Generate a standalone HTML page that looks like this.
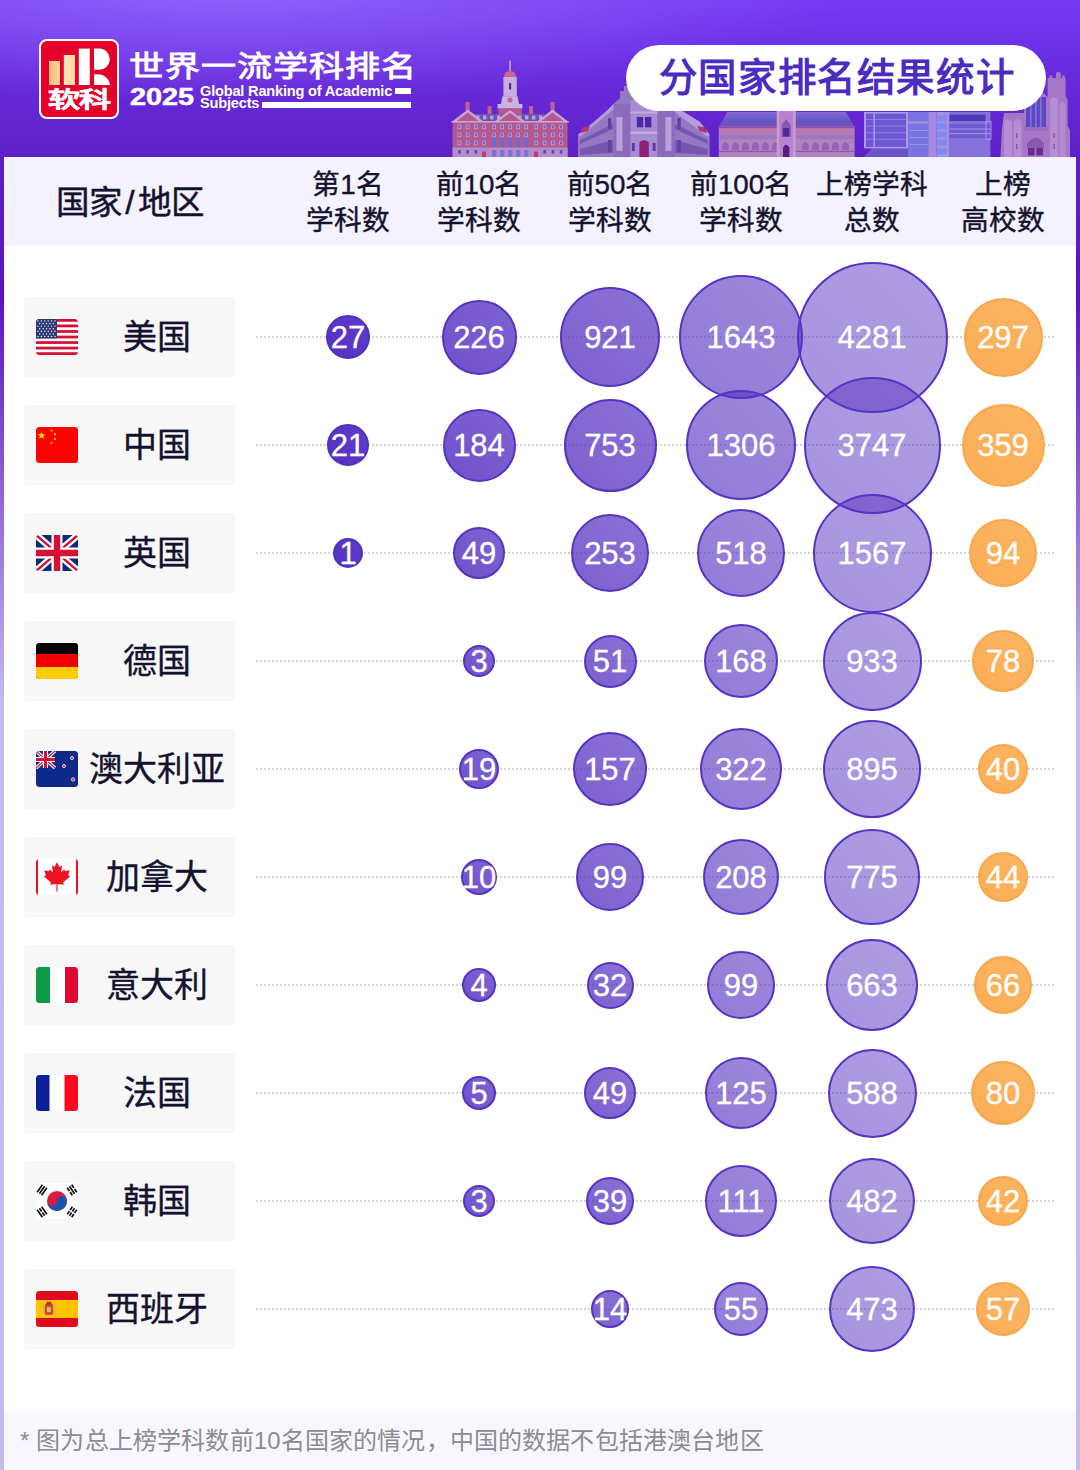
<!DOCTYPE html>
<html lang="zh-CN">
<head>
<meta charset="utf-8">
<title>分国家排名结果统计</title>
<style>
*{box-sizing:border-box;margin:0;padding:0}
html,body{width:1080px;height:1470px;overflow:hidden}
body{font-family:"Liberation Sans",sans-serif;position:relative;
 background:linear-gradient(180deg,#763af3 0px,#6d31e8 40px,#6629d8 90px,#5d20c6 157px,#5c14c0 300px,#c4b8ec 700px,#c5b9ed 1470px);}
.glow{position:absolute;left:0;top:0;width:1080px;height:157px;background:radial-gradient(ellipse 620px 110px at 230px -8px,rgba(158,120,255,.62),rgba(158,120,255,0) 100%)}
.panel{position:absolute;left:4px;top:157px;width:1072px;height:1313px;background:#fff}
.thead{position:absolute;left:4px;top:157px;width:1072px;height:89px;background:#f3f2fd}
.foot{position:absolute;left:4px;top:1406px;width:1072px;height:64px;background:linear-gradient(180deg,#fff 0,#f8f7fe 10px,#f8f7fe 100%)}
.foot p{position:absolute;left:16px;top:20px;font-size:24px;line-height:30px;color:#8b8b93;white-space:nowrap;letter-spacing:.15px}
.th0{position:absolute;left:30px;top:180px;width:200px;text-align:center;font-size:33.5px;line-height:46px;color:#14122e;white-space:nowrap;-webkit-text-stroke:.45px #14122e}
.th0 i{font-style:normal;margin:0 3px}
.th{position:absolute;top:167px;width:140px;text-align:center;font-size:27.7px;line-height:36px;color:#14122e;white-space:nowrap;-webkit-text-stroke:.4px #14122e}
.row{position:absolute;left:0;width:1080px;height:0}
.cbox{position:absolute;left:24px;top:-40px;width:211px;height:80px;border-radius:4px;background:#f7f7f8}
.flag{position:absolute;left:12px;top:22px}
.cname{position:absolute;left:54px;top:0;width:158px;height:80px;line-height:81px;text-align:center;font-size:34px;color:#14122e;white-space:nowrap;-webkit-text-stroke:.35px #14122e}
.dots{position:absolute;left:256px;top:-1px;width:800px;height:2px;background-image:radial-gradient(circle at 1px 1px,#d2d2d7 0.85px,rgba(210,210,215,0) 1.15px);background-size:4px 2px}
.b{position:absolute;border-radius:50%;border:2px solid #5733c2;display:flex;align-items:center;justify-content:center}
.b span{color:#fff;font-size:31px;line-height:31px;white-space:nowrap;-webkit-text-stroke:.3px #fff;position:relative;top:.5px}
.c1{background:linear-gradient(45deg,#5531c2,#5e3bca);border-color:#5130c0}
.c2{background:linear-gradient(45deg,#6f50cb,#7f64d2)}
.c3{background:linear-gradient(45deg,rgba(87,51,194,.78),rgba(87,51,194,.69))}
.c4{background:linear-gradient(45deg,rgba(87,51,194,.65),rgba(87,51,194,.58))}
.c5{background:linear-gradient(45deg,rgba(87,51,194,.53),rgba(87,51,194,.48))}
.c6{background:linear-gradient(45deg,#fbad55,#fcb562);border-color:#f8a74c}
/* header */
.logo{position:absolute;left:39px;top:39px;width:80px;height:80px;border-radius:8px;background:#e4002b;border:2px solid #fff}
.logo svg{position:absolute;left:-2px;top:-2px}
.logo b{position:absolute;left:4px;top:40.6px;width:68px;text-align:center;font-size:32px;line-height:36px;font-weight:900;color:#fff;transform:scaleY(.68);transform-origin:50% 50%;letter-spacing:-0.6px;white-space:nowrap;-webkit-text-stroke:.7px #fff}
.t1{position:absolute;left:128.5px;top:42.2px;font-size:35px;line-height:50px;font-weight:700;color:#fff;letter-spacing:1px;white-space:nowrap;transform:scaleY(.83);transform-origin:0 50%}
.t2{position:absolute;left:129.5px;top:83px;font-size:24px;line-height:28px;font-weight:700;color:#fff;transform:scaleX(1.2);transform-origin:0 50%;white-space:nowrap;-webkit-text-stroke:.5px #fff}
.t3{position:absolute;left:200px;top:84.8px;font-size:14.6px;line-height:12px;font-weight:700;color:#fff;white-space:nowrap;letter-spacing:-.2px}
.bar1{position:absolute;left:395px;top:88px;width:16px;height:6px;background:#fff}
.bar2{position:absolute;left:262px;top:102px;width:149px;height:6px;background:#fff}
.pill{position:absolute;left:626px;top:45px;width:420px;height:66px;border-radius:33px;background:#fff;text-align:center;font-size:38.4px;line-height:65px;font-weight:700;color:#4b2cc0;white-space:nowrap;letter-spacing:1.6px;padding-left:2px}
.bld{position:absolute;left:0;top:0}
</style>
</head>
<body>
<div class="glow"></div>
<svg class="bld" width="1080" height="157" viewBox="0 0 1080 157"><g>
<rect x="465.6" y="102" width="4" height="10" fill="#c2608e"/>
<rect x="487.6" y="106" width="4" height="10" fill="#c2608e"/>
<rect x="529" y="106" width="4" height="10" fill="#c2608e"/>
<rect x="550.6" y="102" width="4" height="10" fill="#c2608e"/>
<rect x="470" y="114" width="80" height="8" fill="#6a55a8"/>
<rect x="476" y="115.5" width="3.4" height="4" fill="#b9a2dc"/>
<rect x="483" y="115.5" width="3.4" height="4" fill="#b9a2dc"/>
<rect x="490" y="115.5" width="3.4" height="4" fill="#b9a2dc"/>
<rect x="497" y="115.5" width="3.4" height="4" fill="#b9a2dc"/>
<rect x="504" y="115.5" width="3.4" height="4" fill="#b9a2dc"/>
<rect x="511" y="115.5" width="3.4" height="4" fill="#b9a2dc"/>
<rect x="518" y="115.5" width="3.4" height="4" fill="#b9a2dc"/>
<rect x="525" y="115.5" width="3.4" height="4" fill="#b9a2dc"/>
<rect x="532" y="115.5" width="3.4" height="4" fill="#b9a2dc"/>
<rect x="539" y="115.5" width="3.4" height="4" fill="#b9a2dc"/>
<rect x="509.2" y="60.5" width="1.8" height="11" fill="#c890c8"/>
<path d="M504,77 Q504,71 510,71 Q516,71 516,77 Z" fill="#c8668e"/>
<rect x="503.4" y="77" width="13.4" height="19.5" fill="#c6aee2"/>
<rect x="509" y="83" width="2.2" height="6.5" fill="#5a2a90"/>
<path d="M501,104 L502.5,96.3 H517.5 L519,104 Z" fill="#cbb4e6"/>
<circle cx="510" cy="100" r="2.5" fill="#cc5e92"/>
<rect x="497.6" y="104" width="24.8" height="4.6" fill="#c9b2e4"/>
<rect x="498.4" y="108.4" width="23.4" height="6.4" fill="#b6588e"/>
<rect x="452.6" y="121.5" width="115" height="35.5" fill="#b4588f"/>
<rect x="452.6" y="147.5" width="115" height="9.5" fill="#b48cce"/>
<path d="M451.6,122 L467.8,109.5 L484,122 Z" fill="#c9a6da"/><path d="M456,121.5 L467.8,112.4 L479.6,121.5 Z" fill="#b65a8e"/>
<path d="M536.4,122 L552.6,109.5 L568.8,122 Z" fill="#c9a6da"/><path d="M540.8,121.5 L552.6,112.4 L564.4,121.5 Z" fill="#b65a8e"/>
<path d="M494,122 L510,110 L526,122 Z" fill="#c9a6da"/><path d="M498.4,121.5 L510,112.8 L521.6,121.5 Z" fill="#b65a8e"/>
<rect x="451.6" y="121" width="117.2" height="1.6" fill="#c9a6da"/>
<rect x="457.6" y="124.6" width="3.6" height="4.6" fill="#c9a0cf"/><rect x="458.40000000000003" y="125.39999999999999" width="2" height="3" fill="#5a66d2"/>
<rect x="465.8" y="124.6" width="3.6" height="4.6" fill="#c9a0cf"/><rect x="466.6" y="125.39999999999999" width="2" height="3" fill="#5a66d2"/>
<rect x="474" y="124.6" width="3.6" height="4.6" fill="#c9a0cf"/><rect x="474.8" y="125.39999999999999" width="2" height="3" fill="#5a66d2"/>
<rect x="482.4" y="124.6" width="3.6" height="4.6" fill="#c9a0cf"/><rect x="483.2" y="125.39999999999999" width="2" height="3" fill="#5a66d2"/>
<rect x="492.4" y="124.6" width="3.6" height="4.6" fill="#c9a0cf"/><rect x="493.2" y="125.39999999999999" width="2" height="3" fill="#5a66d2"/>
<rect x="500.4" y="124.6" width="3.6" height="4.6" fill="#c9a0cf"/><rect x="501.2" y="125.39999999999999" width="2" height="3" fill="#5a66d2"/>
<rect x="508.4" y="124.6" width="3.6" height="4.6" fill="#c9a0cf"/><rect x="509.2" y="125.39999999999999" width="2" height="3" fill="#5a66d2"/>
<rect x="516.4" y="124.6" width="3.6" height="4.6" fill="#c9a0cf"/><rect x="517.1999999999999" y="125.39999999999999" width="2" height="3" fill="#5a66d2"/>
<rect x="524.4" y="124.6" width="3.6" height="4.6" fill="#c9a0cf"/><rect x="525.1999999999999" y="125.39999999999999" width="2" height="3" fill="#5a66d2"/>
<rect x="534.4" y="124.6" width="3.6" height="4.6" fill="#c9a0cf"/><rect x="535.1999999999999" y="125.39999999999999" width="2" height="3" fill="#5a66d2"/>
<rect x="542.8" y="124.6" width="3.6" height="4.6" fill="#c9a0cf"/><rect x="543.5999999999999" y="125.39999999999999" width="2" height="3" fill="#5a66d2"/>
<rect x="551" y="124.6" width="3.6" height="4.6" fill="#c9a0cf"/><rect x="551.8" y="125.39999999999999" width="2" height="3" fill="#5a66d2"/>
<rect x="559.2" y="124.6" width="3.6" height="4.6" fill="#c9a0cf"/><rect x="560.0" y="125.39999999999999" width="2" height="3" fill="#5a66d2"/>
<rect x="457.6" y="132.6" width="3.6" height="4.6" fill="#c9a0cf"/><rect x="458.40000000000003" y="133.4" width="2" height="3" fill="#5a66d2"/>
<rect x="465.8" y="132.6" width="3.6" height="4.6" fill="#c9a0cf"/><rect x="466.6" y="133.4" width="2" height="3" fill="#5a66d2"/>
<rect x="474" y="132.6" width="3.6" height="4.6" fill="#c9a0cf"/><rect x="474.8" y="133.4" width="2" height="3" fill="#5a66d2"/>
<rect x="482.4" y="132.6" width="3.6" height="4.6" fill="#c9a0cf"/><rect x="483.2" y="133.4" width="2" height="3" fill="#5a66d2"/>
<rect x="492.4" y="132.6" width="3.6" height="4.6" fill="#c9a0cf"/><rect x="493.2" y="133.4" width="2" height="3" fill="#5a66d2"/>
<rect x="500.4" y="132.6" width="3.6" height="4.6" fill="#c9a0cf"/><rect x="501.2" y="133.4" width="2" height="3" fill="#5a66d2"/>
<rect x="508.4" y="132.6" width="3.6" height="4.6" fill="#c9a0cf"/><rect x="509.2" y="133.4" width="2" height="3" fill="#5a66d2"/>
<rect x="516.4" y="132.6" width="3.6" height="4.6" fill="#c9a0cf"/><rect x="517.1999999999999" y="133.4" width="2" height="3" fill="#5a66d2"/>
<rect x="524.4" y="132.6" width="3.6" height="4.6" fill="#c9a0cf"/><rect x="525.1999999999999" y="133.4" width="2" height="3" fill="#5a66d2"/>
<rect x="534.4" y="132.6" width="3.6" height="4.6" fill="#c9a0cf"/><rect x="535.1999999999999" y="133.4" width="2" height="3" fill="#5a66d2"/>
<rect x="542.8" y="132.6" width="3.6" height="4.6" fill="#c9a0cf"/><rect x="543.5999999999999" y="133.4" width="2" height="3" fill="#5a66d2"/>
<rect x="551" y="132.6" width="3.6" height="4.6" fill="#c9a0cf"/><rect x="551.8" y="133.4" width="2" height="3" fill="#5a66d2"/>
<rect x="559.2" y="132.6" width="3.6" height="4.6" fill="#c9a0cf"/><rect x="560.0" y="133.4" width="2" height="3" fill="#5a66d2"/>
<rect x="457.6" y="140.6" width="3.6" height="4.6" fill="#c9a0cf"/><rect x="458.40000000000003" y="141.4" width="2" height="3" fill="#5a66d2"/>
<rect x="465.8" y="140.6" width="3.6" height="4.6" fill="#c9a0cf"/><rect x="466.6" y="141.4" width="2" height="3" fill="#5a66d2"/>
<rect x="474" y="140.6" width="3.6" height="4.6" fill="#c9a0cf"/><rect x="474.8" y="141.4" width="2" height="3" fill="#5a66d2"/>
<rect x="482.4" y="140.6" width="3.6" height="4.6" fill="#c9a0cf"/><rect x="483.2" y="141.4" width="2" height="3" fill="#5a66d2"/>
<rect x="534.4" y="140.6" width="3.6" height="4.6" fill="#c9a0cf"/><rect x="535.1999999999999" y="141.4" width="2" height="3" fill="#5a66d2"/>
<rect x="542.8" y="140.6" width="3.6" height="4.6" fill="#c9a0cf"/><rect x="543.5999999999999" y="141.4" width="2" height="3" fill="#5a66d2"/>
<rect x="551" y="140.6" width="3.6" height="4.6" fill="#c9a0cf"/><rect x="551.8" y="141.4" width="2" height="3" fill="#5a66d2"/>
<rect x="559.2" y="140.6" width="3.6" height="4.6" fill="#c9a0cf"/><rect x="560.0" y="141.4" width="2" height="3" fill="#5a66d2"/>
<path d="M492.4,146.5 V139 Q494.2,136.4 496.0,139 V146.5 Z" fill="#5a6ee0"/>
<path d="M500.4,146.5 V139 Q502.2,136.4 504.0,139 V146.5 Z" fill="#5a6ee0"/>
<path d="M508.4,146.5 V139 Q510.2,136.4 512.0,139 V146.5 Z" fill="#5a6ee0"/>
<path d="M516.4,146.5 V139 Q518.1999999999999,136.4 520.0,139 V146.5 Z" fill="#5a6ee0"/>
<path d="M524.4,146.5 V139 Q526.1999999999999,136.4 528.0,139 V146.5 Z" fill="#5a6ee0"/>
<rect x="458.20000000000005" y="150" width="2.6" height="3.6" fill="#4a50c0"/>
<rect x="466.40000000000003" y="150" width="2.6" height="3.6" fill="#4a50c0"/>
<rect x="474.6" y="150" width="2.6" height="3.6" fill="#4a50c0"/>
<rect x="543.4" y="150" width="2.6" height="3.6" fill="#4a50c0"/>
<rect x="551.6" y="150" width="2.6" height="3.6" fill="#4a50c0"/>
<rect x="559.8000000000001" y="150" width="2.6" height="3.6" fill="#4a50c0"/>
<rect x="492" y="150" width="4.4" height="6.6" fill="#7a70d8"/>
<rect x="500" y="150" width="4.4" height="6.6" fill="#7a70d8"/>
<rect x="508" y="150" width="4.4" height="6.6" fill="#7a70d8"/>
<rect x="516" y="150" width="4.4" height="6.6" fill="#7a70d8"/>
<rect x="524" y="150" width="4.4" height="6.6" fill="#7a70d8"/>
<rect x="482" y="151.5" width="4" height="5.5" fill="#c23a6a"/><rect x="534" y="151.5" width="4" height="5.5" fill="#c23a6a"/>
</g>
<g>
<path d="M578,157 V134.5 L592,123.5 L607,110.5 L613.5,104 L620,98 V91 H624 V86 H640 L700,122 L709.6,134.5 V157 Z" fill="#9478c2"/>
<path d="M578,134.5 L592,123.5 L607,110.5 L613.5,104 L614,109 L580,137 Z" fill="#b39bdc"/>
<path d="M709.6,134.5 L700,122 L676,107 L675,112 L707.6,137 Z" fill="#b39bdc"/>
<path d="M582,127.5 L590,126 L588,131 L580.5,133 Z" fill="#b23274"/><path d="M705.4,127.5 L697.4,126 L699.4,131 L707,133 Z" fill="#b23274"/>
<path d="M580,140 L613,124 V129 L580,144 Z" fill="#7558ae"/><path d="M580,149 L613,140 V153 L580,155 Z" fill="#7558ae"/>
<path d="M707.6,140 L675,124 V129 L707.6,144 Z" fill="#7558ae"/><path d="M707.6,149 L675,140 V153 L707.6,155 Z" fill="#7558ae"/>
<rect x="613.6" y="104" width="17" height="53" fill="#8a6cba"/><rect x="657" y="104" width="18" height="53" fill="#8a6cba"/>
<rect x="616.4" y="117" width="6" height="34" fill="#b7a0dc"/><rect x="665.4" y="117" width="6" height="34" fill="#b7a0dc"/>
<rect x="630.4" y="100" width="26.8" height="57" fill="#a68cd2"/>
<rect x="630.4" y="111.5" width="26.8" height="2" fill="#c2addf"/><rect x="630.4" y="131.5" width="26.8" height="2.4" fill="#c2addf"/>
<rect x="636.8" y="117" width="6.4" height="10.4" fill="#4a2aa2"/><rect x="645" y="117" width="6.4" height="10.4" fill="#4a2aa2"/>
<rect x="631.8" y="143" width="3" height="8" fill="#5b3cb0"/><rect x="652.6" y="143" width="3" height="8" fill="#5b3cb0"/>
<path d="M639.4,157 V142 Q644,138.4 648.8,142 V157 Z" fill="#8c1f72"/>
<rect x="608" y="118" width="3.4" height="11" fill="#5f40a8"/><rect x="608" y="140" width="3.4" height="12" fill="#5f40a8"/><rect x="677.4" y="118" width="3.4" height="11" fill="#5f40a8"/><rect x="677.4" y="140" width="3.4" height="12" fill="#5f40a8"/>
</g>
<g>
<defs><linearGradient id="rf3" x1="0" y1="0" x2="0" y2="1"><stop offset="0" stop-color="#8a68d2"/><stop offset=".6" stop-color="#5e56c6"/><stop offset="1" stop-color="#7a4eb6"/></linearGradient></defs>
<path d="M718.8,127 L727.4,112 H846 L854.6,127 Z" fill="url(#rf3)"/>
<rect x="718.8" y="126.6" width="135.8" height="30.4" fill="#b083c0"/>
<rect x="718.8" y="126.6" width="135.8" height="1.6" fill="#8a50a8"/>
<rect x="720" y="129" width="133.4" height="5" fill="#bb78ac"/>
<rect x="720" y="135" width="133.4" height="4" fill="#9a78c4"/>
<rect x="718.8" y="150.8" width="135.8" height="1" fill="#8a50a8"/>
<path d="M722,150 V145 Q725.4,139.6 728.8,145 V150 Z" fill="#9462b4"/>
<path d="M732,150 V145 Q735.4,139.6 738.8,145 V150 Z" fill="#9462b4"/>
<path d="M742,150 V145 Q745.4,139.6 748.8,145 V150 Z" fill="#9462b4"/>
<path d="M752,150 V145 Q755.4,139.6 758.8,145 V150 Z" fill="#9462b4"/>
<path d="M762,150 V145 Q765.4,139.6 768.8,145 V150 Z" fill="#9462b4"/>
<path d="M772,150 V145 Q775.4,139.6 778.8,145 V150 Z" fill="#9462b4"/>
<path d="M802,150 V145 Q805.4,139.6 808.8,145 V150 Z" fill="#9462b4"/>
<path d="M812,150 V145 Q815.4,139.6 818.8,145 V150 Z" fill="#9462b4"/>
<path d="M822,150 V145 Q825.4,139.6 828.8,145 V150 Z" fill="#9462b4"/>
<path d="M832,150 V145 Q835.4,139.6 838.8,145 V150 Z" fill="#9462b4"/>
<path d="M842,150 V145 Q845.4,139.6 848.8,145 V150 Z" fill="#9462b4"/>
<rect x="776.8" y="106" width="18.8" height="51" fill="#b684cc"/>
<rect x="776.8" y="106" width="2.6" height="51" fill="#c79ad8"/><rect x="793" y="106" width="2.6" height="51" fill="#c79ad8"/>
<path d="M781.6,137 V125 L786.2,119 L790.8,125 V137 Z" fill="#8a56b4"/><rect x="783.2" y="128" width="6" height="8.4" fill="#4a2a9c"/>
<path d="M783,157 V147.4 Q786.2,142 789.4,147.4 V157 Z" fill="#5a1a84"/>
</g>
<g>
<path d="M864,157 L872,148 H930 V157 Z" fill="#6a52c8"/>
<rect x="864" y="112" width="44" height="36.4" fill="#ae98e6"/><rect x="866" y="113.5" width="40" height="33.4" fill="#6b58d2"/>
<rect x="866" y="119" width="40" height="1" fill="#8f7fe0"/>
<rect x="866" y="125.6" width="40" height="1" fill="#8f7fe0"/>
<rect x="866" y="132.2" width="40" height="1" fill="#8f7fe0"/>
<rect x="866" y="138.8" width="40" height="1" fill="#8f7fe0"/>
<rect x="873.4" y="113.5" width="1.6" height="33.4" fill="#a898e8"/>
<rect x="908" y="112" width="21" height="45" fill="#7a74e2"/><rect x="908" y="121.4" width="21" height="2.2" fill="#a58fe2"/>
<rect x="909.4" y="130" width="19" height="1" fill="#9a92ec"/>
<rect x="909.4" y="137" width="19" height="1" fill="#9a92ec"/>
<rect x="909.4" y="144" width="19" height="1" fill="#9a92ec"/>
<rect x="928.6" y="112" width="8" height="45" fill="#a889e2"/>
<rect x="936.6" y="112" width="12.4" height="45" fill="#a58fe4"/>
<rect x="936.6" y="115.4" width="10" height="5.6" fill="#7d8af0"/>
<rect x="936.6" y="123.4" width="10" height="5.6" fill="#7d8af0"/>
<rect x="936.6" y="131.6" width="10" height="5.6" fill="#7d8af0"/>
<rect x="936.6" y="139.8" width="10" height="5.6" fill="#7d8af0"/>
<rect x="936.6" y="148.6" width="10" height="5.6" fill="#7d8af0"/>
<rect x="949" y="112" width="41.4" height="45" fill="#8672da"/>
<rect x="949.6" y="114.6" width="36" height="6.4" fill="#4a3ab6"/>
<rect x="949.6" y="124" width="41" height="14" fill="#6f5cd0"/><rect x="949.6" y="128.4" width="41" height="1.2" fill="#9c8ce6"/><rect x="949.6" y="133" width="41" height="1.2" fill="#9c8ce6"/>
<rect x="986" y="121.4" width="5" height="18" fill="none" stroke="#a792e6" stroke-width="1"/>
</g>
<g>
<path d="M1000.4,157 L1002,128 L1004,113 H1024 V100 L1036,86 L1047.6,97 V78 H1049.6 V75.6 H1052.4 V78 H1056 V73 L1058.4,71.6 L1060.8,73 V78 H1062 V75.6 H1064.8 V78 H1065.6 V96 L1067.6,100 V126 L1070,130 V157 Z" fill="#a677c6"/>
<path d="M1004,157 V122 Q1008,116 1012,122 V157 Z" fill="#b68cd2"/><path d="M1013.6,157 V122 Q1017.6,116 1021.6,122 V157 Z" fill="#b68cd2"/>
<path d="M1050,157 V100 Q1054,94 1058,100 V157 Z" fill="#b68cd2"/><path d="M1059.6,157 V104 Q1062.6,99 1065.6,104 V157 Z" fill="#b28acf"/>
<rect x="1026" y="97" width="20" height="30" fill="#5a48c6"/>
<rect x="1030.4" y="97" width="1" height="30" fill="#a88cd8"/>
<rect x="1035.4" y="97" width="1" height="30" fill="#a88cd8"/>
<rect x="1040.4" y="97" width="1" height="30" fill="#a88cd8"/>
<rect x="1024.4" y="127" width="23" height="4" fill="#9c6cbc"/>
<path d="M1027,148 V144 Q1035.6,131 1044.2,144 V148 Z" fill="#8a58ae"/>
<rect x="1028" y="148" width="6.6" height="7.4" fill="#6a2a92"/><rect x="1036.4" y="148" width="6.6" height="7.4" fill="#6a2a92"/>
<rect x="1016" y="133" width="1.4" height="5" fill="#8450a8"/><rect x="1016" y="144" width="1.4" height="5" fill="#8450a8"/><rect x="1053.4" y="133" width="1.4" height="5" fill="#8450a8"/><rect x="1053.4" y="144" width="1.4" height="5" fill="#8450a8"/>
</g></svg>
<div class="logo"><svg width="80" height="80" viewBox="39 39 80 80">
<defs><linearGradient id="lg1" x1="0" x2="1"><stop offset="0" stop-color="#f3bd76"/><stop offset="1" stop-color="#f9d69c"/></linearGradient>
<linearGradient id="lg2" x1="0" x2="1"><stop offset="0" stop-color="#fde6bc"/><stop offset="1" stop-color="#fbd8a2"/></linearGradient></defs>
<rect x="49" y="61" width="11" height="24" fill="url(#lg1)"/><rect x="63.8" y="55" width="11.2" height="30" fill="url(#lg2)"/><rect x="78.8" y="48.6" width="11" height="36.4" fill="#fff"/>
<path d="M94,48.6 H99.2 A10.6,10.6 0 0 1 99.2,69.8 H94 Z" fill="#fff"/><path d="M94,74.3 H97.5 A12.3,10.7 0 0 1 109.8,85 H94 Z" fill="#fff"/></svg><b>软科</b></div>
<div class="t1">世界一流学科排名</div>
<div class="t2">2025</div>
<div class="t3">Global Ranking of Academic<br>Subjects</div>
<div class="bar1"></div><div class="bar2"></div>
<div class="pill">分国家排名结果统计</div>
<div class="panel"></div>
<div class="thead"></div>
<div class="th0">国家<i>/</i>地区</div>
<div class="th" style="left:278px">第1名<br>学科数</div><div class="th" style="left:409px">前10名<br>学科数</div><div class="th" style="left:540px">前50名<br>学科数</div><div class="th" style="left:671px">前100名<br>学科数</div><div class="th" style="left:802px">上榜学科<br>总数</div><div class="th" style="left:933px">上榜<br>高校数</div>
<div class="row" style="top:337px"><div class="cbox"><svg class="flag" width="42" height="36" viewBox="0 0 42 36"><defs><clipPath id="fc0"><rect width="42" height="36" rx="3.5"/></clipPath></defs><g clip-path="url(#fc0)"><rect width="42" height="36" fill="#fff"/>
<g fill="#d80f34"><rect y="0" width="42" height="2.77"/><rect y="5.54" width="42" height="2.77"/><rect y="11.08" width="42" height="2.77"/><rect y="16.62" width="42" height="2.77"/><rect y="22.15" width="42" height="2.77"/><rect y="27.69" width="42" height="2.77"/><rect y="33.23" width="42" height="2.77"/></g>
<rect width="21" height="19.4" fill="#2a3a78"/>
<g fill="#fff"><circle cx="2.0" cy="1.9" r="0.7"/><circle cx="5.4" cy="1.9" r="0.7"/><circle cx="8.8" cy="1.9" r="0.7"/><circle cx="12.2" cy="1.9" r="0.7"/><circle cx="15.6" cy="1.9" r="0.7"/><circle cx="19.0" cy="1.9" r="0.7"/><circle cx="3.7" cy="4.5" r="0.7"/><circle cx="7.1" cy="4.5" r="0.7"/><circle cx="10.5" cy="4.5" r="0.7"/><circle cx="13.9" cy="4.5" r="0.7"/><circle cx="17.3" cy="4.5" r="0.7"/><circle cx="2.0" cy="7.1" r="0.7"/><circle cx="5.4" cy="7.1" r="0.7"/><circle cx="8.8" cy="7.1" r="0.7"/><circle cx="12.2" cy="7.1" r="0.7"/><circle cx="15.6" cy="7.1" r="0.7"/><circle cx="19.0" cy="7.1" r="0.7"/><circle cx="3.7" cy="9.7" r="0.7"/><circle cx="7.1" cy="9.7" r="0.7"/><circle cx="10.5" cy="9.7" r="0.7"/><circle cx="13.9" cy="9.7" r="0.7"/><circle cx="17.3" cy="9.7" r="0.7"/><circle cx="2.0" cy="12.3" r="0.7"/><circle cx="5.4" cy="12.3" r="0.7"/><circle cx="8.8" cy="12.3" r="0.7"/><circle cx="12.2" cy="12.3" r="0.7"/><circle cx="15.6" cy="12.3" r="0.7"/><circle cx="19.0" cy="12.3" r="0.7"/><circle cx="3.7" cy="14.9" r="0.7"/><circle cx="7.1" cy="14.9" r="0.7"/><circle cx="10.5" cy="14.9" r="0.7"/><circle cx="13.9" cy="14.9" r="0.7"/><circle cx="17.3" cy="14.9" r="0.7"/><circle cx="2.0" cy="17.5" r="0.7"/><circle cx="5.4" cy="17.5" r="0.7"/><circle cx="8.8" cy="17.5" r="0.7"/><circle cx="12.2" cy="17.5" r="0.7"/><circle cx="15.6" cy="17.5" r="0.7"/><circle cx="19.0" cy="17.5" r="0.7"/></g></g></svg><span class="cname">美国</span></div><div class="dots"></div><div class="b c1" style="left:326px;top:-22px;width:44px;height:44px"><span>27</span></div><div class="b c2" style="left:441.5px;top:-37.5px;width:75px;height:75px"><span>226</span></div><div class="b c3" style="left:560px;top:-50px;width:100px;height:100px"><span>921</span></div><div class="b c4" style="left:679px;top:-62px;width:124px;height:124px"><span>1643</span></div><div class="b c5" style="left:796.5px;top:-75.5px;width:151px;height:151px"><span>4281</span></div><div class="b c6" style="left:963.5px;top:-39.5px;width:79px;height:79px"><span>297</span></div></div>
<div class="row" style="top:445px"><div class="cbox"><svg class="flag" width="42" height="36" viewBox="0 0 42 36"><defs><clipPath id="fc1"><rect width="42" height="36" rx="3.5"/></clipPath></defs><g clip-path="url(#fc1)"><rect width="42" height="36" fill="#fe0000"/>
<polygon fill="#ffe000" points="5.5,4.2 6.5,7.2 9.7,7.2 7.1,9.1 8.1,12.1 5.5,10.2 2.9,12.1 3.9,9.1 1.3,7.2 4.5,7.2"/>
<g fill="#ffe000"><circle cx="15.5" cy="3.6" r="1.1"/><circle cx="19" cy="7.2" r="1.1"/><circle cx="19" cy="12.2" r="1.1"/><circle cx="15.5" cy="15.8" r="1.1"/></g></g></svg><span class="cname">中国</span></div><div class="dots"></div><div class="b c1" style="left:327px;top:-21px;width:42px;height:42px"><span>21</span></div><div class="b c2" style="left:442.5px;top:-36.5px;width:73px;height:73px"><span>184</span></div><div class="b c3" style="left:563.5px;top:-46.5px;width:93px;height:93px"><span>753</span></div><div class="b c4" style="left:686px;top:-55px;width:110px;height:110px"><span>1306</span></div><div class="b c5" style="left:803.5px;top:-68.5px;width:137px;height:137px"><span>3747</span></div><div class="b c6" style="left:961.5px;top:-41.5px;width:83px;height:83px"><span>359</span></div></div>
<div class="row" style="top:553px"><div class="cbox"><svg class="flag" width="42" height="36" viewBox="0 0 42 36"><defs><clipPath id="fc2"><rect width="42" height="36" rx="3.5"/></clipPath></defs><g clip-path="url(#fc2)"><rect width="42" height="36" fill="#0b2a78"/>
<path d="M0,0 L42,36 M42,0 L0,36" stroke="#fff" stroke-width="7"/>
<path d="M0,0 L42,36 M42,0 L0,36" stroke="#d80f34" stroke-width="2.4"/>
<path d="M21,0 V36 M0,18 H42" stroke="#fff" stroke-width="11"/>
<path d="M21,0 V36 M0,18 H42" stroke="#d80f34" stroke-width="6.4"/></g></svg><span class="cname">英国</span></div><div class="dots"></div><div class="b c1" style="left:333px;top:-15px;width:30px;height:30px"><span>1</span></div><div class="b c2" style="left:453px;top:-26px;width:52px;height:52px"><span>49</span></div><div class="b c3" style="left:571px;top:-39px;width:78px;height:78px"><span>253</span></div><div class="b c4" style="left:697px;top:-44px;width:88px;height:88px"><span>518</span></div><div class="b c5" style="left:812.5px;top:-59.5px;width:119px;height:119px"><span>1567</span></div><div class="b c6" style="left:969px;top:-34px;width:68px;height:68px"><span>94</span></div></div>
<div class="row" style="top:661px"><div class="cbox"><svg class="flag" width="42" height="36" viewBox="0 0 42 36"><defs><clipPath id="fc3"><rect width="42" height="36" rx="3.5"/></clipPath></defs><g clip-path="url(#fc3)"><rect width="42" height="36" fill="#f00000"/><rect width="42" height="11" fill="#050505"/><rect y="24" width="42" height="12" fill="#ffcc00"/></g></svg><span class="cname">德国</span></div><div class="dots"></div><div class="b c2" style="left:463px;top:-16px;width:32px;height:32px"><span>3</span></div><div class="b c3" style="left:583.5px;top:-26.5px;width:53px;height:53px"><span>51</span></div><div class="b c4" style="left:704px;top:-37px;width:74px;height:74px"><span>168</span></div><div class="b c5" style="left:822.5px;top:-49.5px;width:99px;height:99px"><span>933</span></div><div class="b c6" style="left:972px;top:-31px;width:62px;height:62px"><span>78</span></div></div>
<div class="row" style="top:769px"><div class="cbox"><svg class="flag" width="42" height="36" viewBox="0 0 42 36"><defs><clipPath id="fc4"><rect width="42" height="36" rx="3.5"/></clipPath></defs><g clip-path="url(#fc4)"><rect width="42" height="36" fill="#0b2a8a"/>
<g><rect width="19" height="17" fill="#0b2a8a"/>
<path d="M0,0 L19,17 M19,0 L0,17" stroke="#fff" stroke-width="3.4"/>
<path d="M0,0 L19,17 M19,0 L0,17" stroke="#d80f34" stroke-width="1.2"/>
<path d="M9.5,0 V17 M0,8.5 H19" stroke="#fff" stroke-width="5.2"/>
<path d="M9.5,0 V17 M0,8.5 H19" stroke="#d80f34" stroke-width="3"/></g>
<g fill="#e03a4a" stroke="#fff" stroke-width="0.7"><circle cx="36" cy="7" r="1.6"/><circle cx="28" cy="15" r="1.6"/><circle cx="37" cy="28.5" r="1.7"/></g></g></svg><span class="cname">澳大利亚</span></div><div class="dots"></div><div class="b c2" style="left:459px;top:-20px;width:40px;height:40px"><span>19</span></div><div class="b c3" style="left:573px;top:-37px;width:74px;height:74px"><span>157</span></div><div class="b c4" style="left:700px;top:-41px;width:82px;height:82px"><span>322</span></div><div class="b c5" style="left:823px;top:-49px;width:98px;height:98px"><span>895</span></div><div class="b c6" style="left:978px;top:-25px;width:50px;height:50px"><span>40</span></div></div>
<div class="row" style="top:877px"><div class="cbox"><svg class="flag" width="42" height="36" viewBox="0 0 42 36"><defs><clipPath id="fc5"><rect width="42" height="36" rx="3.5"/></clipPath></defs><g clip-path="url(#fc5)"><rect width="42" height="36" fill="#fff"/><rect width="2" height="36" fill="#ee1122"/><rect x="40" width="2" height="36" fill="#ee1122"/>
<path fill="#ee1122" transform="translate(21 18) scale(1.12) translate(-21 -18)" d="M21,4.5 L23.2,9 L25.6,7.8 L24.6,14 L27.6,11 L28.3,12.8 L32.4,12 L31,16.4 L32.8,17.4 L26.4,22.8 L27.2,25 L21.5,24.2 L21.5,31 L20.5,31 L20.5,24.2 L14.8,25 L15.6,22.8 L9.2,17.4 L11,16.4 L9.6,12 L13.7,12.8 L14.4,11 L17.4,14 L16.4,7.8 L18.8,9 Z"/></g></svg><span class="cname">加拿大</span></div><div class="dots"></div><div class="b c2" style="left:461px;top:-18px;width:36px;height:36px"><span>10</span></div><div class="b c3" style="left:576px;top:-34px;width:68px;height:68px"><span>99</span></div><div class="b c4" style="left:703px;top:-38px;width:76px;height:76px"><span>208</span></div><div class="b c5" style="left:824px;top:-48px;width:96px;height:96px"><span>775</span></div><div class="b c6" style="left:978px;top:-25px;width:50px;height:50px"><span>44</span></div></div>
<div class="row" style="top:985px"><div class="cbox"><svg class="flag" width="42" height="36" viewBox="0 0 42 36"><defs><clipPath id="fc6"><rect width="42" height="36" rx="3.5"/></clipPath></defs><g clip-path="url(#fc6)"><rect width="42" height="36" fill="#fff"/><rect width="14" height="36" fill="#0a9a48"/><rect x="29" width="13" height="36" fill="#de0a30"/></g></svg><span class="cname">意大利</span></div><div class="dots"></div><div class="b c2" style="left:462px;top:-17px;width:34px;height:34px"><span>4</span></div><div class="b c3" style="left:586.5px;top:-23.5px;width:47px;height:47px"><span>32</span></div><div class="b c4" style="left:707px;top:-34px;width:68px;height:68px"><span>99</span></div><div class="b c5" style="left:826px;top:-46px;width:92px;height:92px"><span>663</span></div><div class="b c6" style="left:974px;top:-29px;width:58px;height:58px"><span>66</span></div></div>
<div class="row" style="top:1093px"><div class="cbox"><svg class="flag" width="42" height="36" viewBox="0 0 42 36"><defs><clipPath id="fc7"><rect width="42" height="36" rx="3.5"/></clipPath></defs><g clip-path="url(#fc7)"><rect width="42" height="36" fill="#fff"/><rect width="13.5" height="36" fill="#0a1f9a"/><rect x="28.5" width="13.5" height="36" fill="#fe0a1e"/></g></svg><span class="cname">法国</span></div><div class="dots"></div><div class="b c2" style="left:462px;top:-17px;width:34px;height:34px"><span>5</span></div><div class="b c3" style="left:584px;top:-26px;width:52px;height:52px"><span>49</span></div><div class="b c4" style="left:705px;top:-36px;width:72px;height:72px"><span>125</span></div><div class="b c5" style="left:827.5px;top:-44.5px;width:89px;height:89px"><span>588</span></div><div class="b c6" style="left:971px;top:-32px;width:64px;height:64px"><span>80</span></div></div>
<div class="row" style="top:1201px"><div class="cbox"><svg class="flag" width="42" height="36" viewBox="0 0 42 36"><defs><clipPath id="fc8"><rect width="42" height="36" rx="3.5"/></clipPath></defs><g clip-path="url(#fc8)"><rect width="42" height="36" fill="#fff"/>
<circle cx="21" cy="18" r="10" fill="#e01a3c"/>
<path d="M11,18 A10,10 0 0 0 31,18 A5,5 0 0 0 21,18 A5,5 0 0 1 11,18 Z" fill="#1a52b4"/>
<g stroke="#111" stroke-width="1.7">
<g transform="translate(6,7) rotate(-56)"><path d="M-4.6,-2.7 H4.6 M-4.6,0 H4.6 M-4.6,2.7 H4.6"/></g>
<g transform="translate(36,29) rotate(-56)"><path d="M-4.6,-2.7 H-0.6 M0.6,-2.7 H4.6 M-4.6,0 H-0.6 M0.6,0 H4.6 M-4.6,2.7 H-0.6 M0.6,2.7 H4.6"/></g>
<g transform="translate(36,7) rotate(56)"><path d="M-4.6,-2.7 H-0.6 M0.6,-2.7 H4.6 M-4.6,0 H4.6 M-4.6,2.7 H-0.6 M0.6,2.7 H4.6"/></g>
<g transform="translate(6,29) rotate(56)"><path d="M-4.6,-2.7 H4.6 M-4.6,0 H-0.6 M0.6,0 H4.6 M-4.6,2.7 H4.6"/></g>
</g></g></svg><span class="cname">韩国</span></div><div class="dots"></div><div class="b c2" style="left:463px;top:-16px;width:32px;height:32px"><span>3</span></div><div class="b c3" style="left:586px;top:-24px;width:48px;height:48px"><span>39</span></div><div class="b c4" style="left:705px;top:-36px;width:72px;height:72px"><span>111</span></div><div class="b c5" style="left:829px;top:-43px;width:86px;height:86px"><span>482</span></div><div class="b c6" style="left:978px;top:-25px;width:50px;height:50px"><span>42</span></div></div>
<div class="row" style="top:1309px"><div class="cbox"><svg class="flag" width="42" height="36" viewBox="0 0 42 36"><defs><clipPath id="fc9"><rect width="42" height="36" rx="3.5"/></clipPath></defs><g clip-path="url(#fc9)"><rect width="42" height="36" fill="#ffc400"/><rect width="42" height="9" fill="#e00a1e"/><rect y="27" width="42" height="9" fill="#e00a1e"/>
<g transform="translate(13.5 18) scale(1.2) translate(-13.5 -17.5)"><rect x="9.5" y="13" width="7" height="9.5" rx="1.5" fill="#c8502a"/><rect x="11" y="11.5" width="4" height="2.4" fill="#b03020"/><rect x="8" y="14" width="1.4" height="8" fill="#c9b070"/><rect x="16.6" y="14" width="1.4" height="8" fill="#c9b070"/><rect x="11.4" y="16" width="3.2" height="4" fill="#e8c050"/></g></g></svg><span class="cname">西班牙</span></div><div class="dots"></div><div class="b c3" style="left:591px;top:-19px;width:38px;height:38px"><span>14</span></div><div class="b c4" style="left:714px;top:-27px;width:54px;height:54px"><span>55</span></div><div class="b c5" style="left:829px;top:-43px;width:86px;height:86px"><span>473</span></div><div class="b c6" style="left:976px;top:-27px;width:54px;height:54px"><span>57</span></div></div>
<div class="foot"><p>* 图为总上榜学科数前10名国家的情况，中国的数据不包括港澳台地区</p></div>
</body>
</html>
